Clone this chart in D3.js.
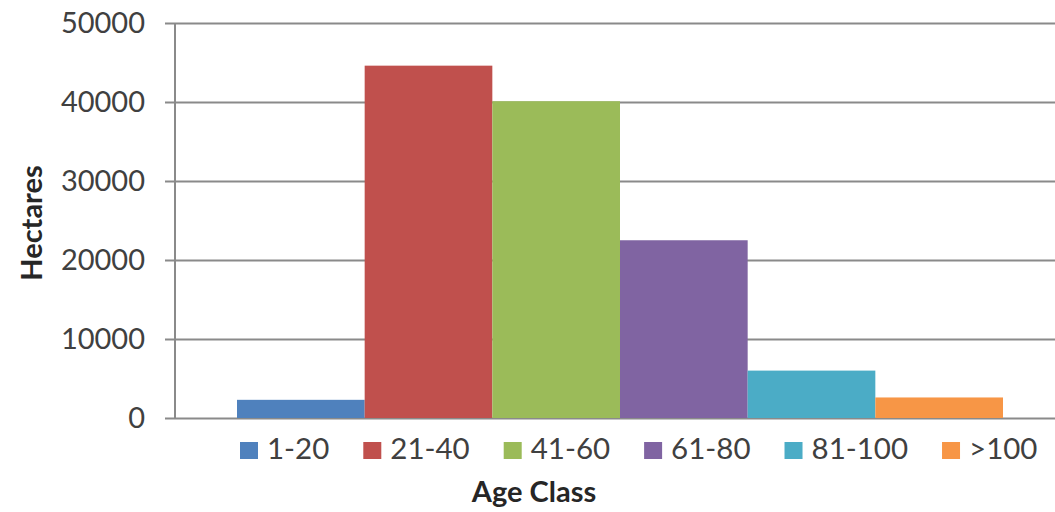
<!DOCTYPE html>
<html>
<head>
<meta charset="utf-8">
<script src="https://cdn.jsdelivr.net/npm/d3@7"></script>
<style>
  html, body { margin: 0; padding: 0; background: #ffffff; }
  svg { display: block; }
  text { font-family: Lato, "Open Sans", sans-serif; }
</style>
</head>
<body>
<svg id="chart" width="1055" height="512"></svg>
<script>
// Forest area by age class (hectares)
const ageClasses = ["1-20", "21-40", "41-60", "61-80", "81-100", ">100"];
const hectares   = [2300, 44600, 40100, 22500, 6000, 2600];
const classColors = ["#4F81BD", "#C0504D", "#9BBB59", "#8064A2", "#4BACC6", "#F79646"];
const yTicks = [0, 10000, 20000, 30000, 40000, 50000];

const W = 1055, H = 512;
const plot = { left: 175, right: 1055, top: 23, bottom: 418 };
const barSpan = [237, 1003];

const svg = d3.select("#chart");

const y = d3.scaleLinear().domain([0, 50000]).range([plot.bottom, plot.top]);
const x = d3.scaleBand().domain(ageClasses).range(barSpan).padding(0);
const color = d3.scaleOrdinal().domain(ageClasses).range(classColors);

// Horizontal gridlines with short tick stubs left of the axis
const yAxis = d3.axisLeft(y)
  .tickValues(yTicks)
  .tickSize(-(plot.right - plot.left))
  .tickPadding(30)
  .tickFormat(d3.format("d"));

const gY = svg.append("g")
  .attr("transform", `translate(${plot.left},0)`)
  .call(yAxis);
gY.select(".domain").remove();
gY.selectAll(".tick line")
  .attr("x1", -10)
  .attr("stroke", "#8a8a8a")
  .attr("stroke-width", 2);
gY.selectAll(".tick text")
  .attr("fill", "#404040")
  .style("font-size", "29px")
  .style("font-family", "Lato, 'Open Sans', sans-serif");

// Vertical axis line
svg.append("line")
  .attr("x1", plot.left).attr("x2", plot.left)
  .attr("y1", y(50000)).attr("y2", y(0))
  .attr("stroke", "#8a8a8a")
  .attr("stroke-width", 2);

// Bars
svg.append("g").selectAll("rect")
  .data(ageClasses.map((c, i) => ({ c, v: hectares[i] })))
  .join("rect")
  .attr("x", d => x(d.c))
  .attr("width", x.bandwidth())
  .attr("y", d => y(d.v))
  .attr("height", d => y(0) - y(d.v))
  .attr("fill", d => color(d.c));

// Legend
const legend = svg.append("g").attr("transform", "translate(240,0)");
let cursor = 0;
ageClasses.forEach((c) => {
  const item = legend.append("g").attr("transform", `translate(${cursor},0)`);
  item.append("rect")
    .attr("x", 0).attr("y", 442)
    .attr("width", 18).attr("height", 17)
    .attr("fill", color(c));
  const t = item.append("text")
    .attr("x", 27).attr("y", 459)
    .attr("fill", "#404040")
    .style("font-size", "29.5px")
    .text(c);
  cursor += 27 + t.node().getComputedTextLength() + 34;
});

// Axis titles
svg.append("text")
  .attr("x", 534).attr("y", 502)
  .attr("text-anchor", "middle")
  .attr("fill", "#262626")
  .style("font-size", "29px")
  .style("font-weight", "bold")
  .text("Age Class");

svg.append("text")
  .attr("transform", "translate(42,223) rotate(-90)")
  .attr("text-anchor", "middle")
  .attr("fill", "#262626")
  .style("font-size", "29px")
  .style("font-weight", "bold")
  .text("Hectares");
</script>
</body>
</html>
